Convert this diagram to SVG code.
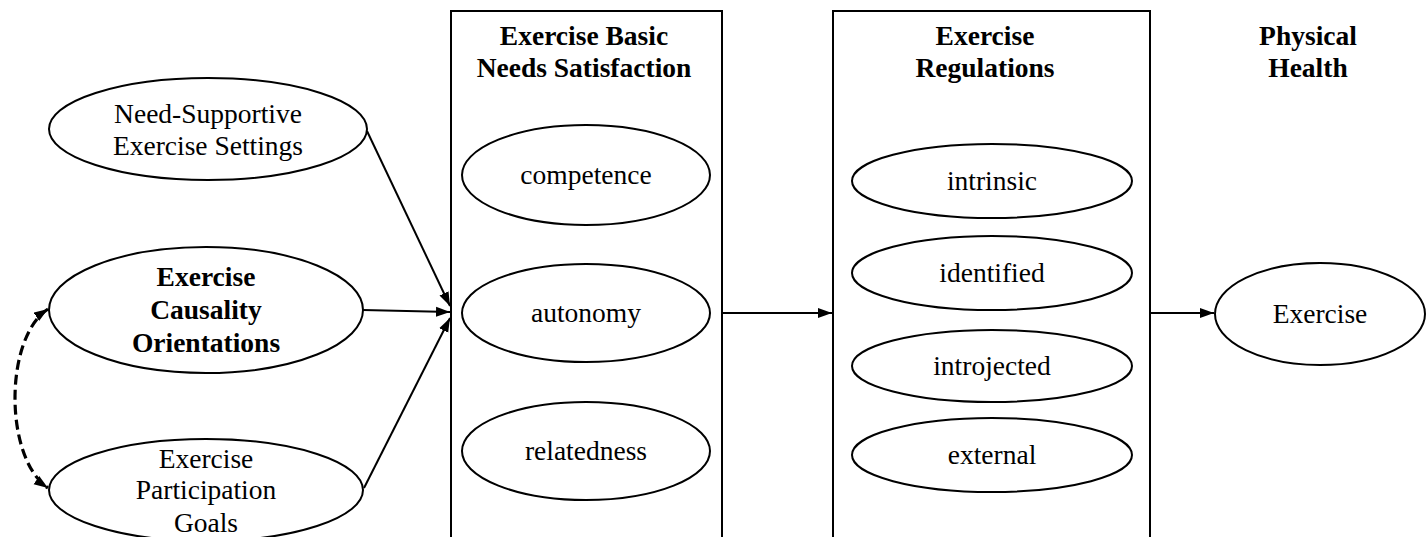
<svg xmlns="http://www.w3.org/2000/svg" width="1427" height="537" viewBox="0 0 1427 537">
<style>
  .bg{fill:#ffffff}
  .box{fill:none;stroke:#000;stroke-width:2}
  .ell{fill:#fff;stroke:#000;stroke-width:2}
  .t{font-family:"Liberation Serif","Times New Roman",serif;font-size:27.5px;fill:#000;text-anchor:middle}
  .b{font-weight:bold}
  .con{fill:none;stroke:#000;stroke-width:2}
  .dash{fill:none;stroke:#000;stroke-width:3.2;stroke-dasharray:10 5}
</style>
<defs>
  <marker id="arr" viewBox="0 0 14 10" refX="14" refY="5" markerWidth="14" markerHeight="11" markerUnits="userSpaceOnUse" orient="auto">
    <path d="M0,0 L14,5 L0,10 Z" fill="#000"/>
  </marker>
  <marker id="arrd" viewBox="0 0 14 10" refX="14" refY="5" markerWidth="14" markerHeight="11" markerUnits="userSpaceOnUse" orient="auto-start-reverse">
    <path d="M0,0 L14,5 L0,10 Z" fill="#000"/>
  </marker>
</defs>
<rect class="bg" x="0" y="0" width="1427" height="537"/>

<g id="box-needs">
  <rect class="box" x="451" y="11" width="271" height="540"/>
  <text class="t b" x="584" y="45">Exercise Basic</text>
  <text class="t b" x="584" y="77">Needs Satisfaction</text>
</g>
<g id="box-regulations">
  <rect class="box" x="833" y="11" width="317" height="540"/>
  <text class="t b" x="985" y="45">Exercise</text>
  <text class="t b" x="985" y="77">Regulations</text>
</g>
<g id="label-physical-health">
  <text class="t b" x="1308" y="45">Physical</text>
  <text class="t b" x="1308" y="77">Health</text>
</g>

<g id="node-need-supportive">
  <ellipse class="ell" cx="208" cy="129" rx="159" ry="51"/>
  <text class="t" x="208" y="123">Need-Supportive</text>
  <text class="t" x="208" y="155">Exercise Settings</text>
</g>
<g id="node-causality">
  <ellipse class="ell" cx="206" cy="310" rx="157" ry="63"/>
  <text class="t b" x="206" y="286">Exercise</text>
  <text class="t b" x="206" y="319">Causality</text>
  <text class="t b" x="206" y="352">Orientations</text>
</g>
<g id="node-goals">
  <ellipse class="ell" cx="206" cy="490" rx="157" ry="51"/>
  <text class="t" x="206" y="468">Exercise</text>
  <text class="t" x="206" y="499">Participation</text>
  <text class="t" x="206" y="532">Goals</text>
</g>

<g id="node-competence">
  <ellipse class="ell" cx="586" cy="175" rx="124" ry="50"/>
  <text class="t" x="586" y="184">competence</text>
</g>
<g id="node-autonomy">
  <ellipse class="ell" cx="586" cy="313" rx="124" ry="49"/>
  <text class="t" x="586" y="322">autonomy</text>
</g>
<g id="node-relatedness">
  <ellipse class="ell" cx="586" cy="451" rx="124" ry="49"/>
  <text class="t" x="586" y="460">relatedness</text>
</g>

<g id="node-intrinsic">
  <ellipse class="ell" cx="992" cy="181" rx="140" ry="37"/>
  <text class="t" x="992" y="190">intrinsic</text>
</g>
<g id="node-identified">
  <ellipse class="ell" cx="992" cy="273" rx="140" ry="37"/>
  <text class="t" x="992" y="282">identified</text>
</g>
<g id="node-introjected">
  <ellipse class="ell" cx="992" cy="366" rx="140" ry="36"/>
  <text class="t" x="992" y="375">introjected</text>
</g>
<g id="node-external">
  <ellipse class="ell" cx="992" cy="455" rx="140" ry="37"/>
  <text class="t" x="992" y="464">external</text>
</g>

<g id="node-exercise">
  <ellipse class="ell" cx="1320" cy="314" rx="105" ry="51"/>
  <text class="t" x="1320" y="323">Exercise</text>
</g>

<g id="connectors">
  <line class="con" x1="367" y1="131" x2="450" y2="306" marker-end="url(#arr)"/>
  <line class="con" x1="363" y1="310" x2="450" y2="312" marker-end="url(#arr)"/>
  <line class="con" x1="364" y1="488" x2="450" y2="318" marker-end="url(#arr)"/>
  <line class="con" x1="722" y1="313" x2="832" y2="313" marker-end="url(#arr)"/>
  <line class="con" x1="1150" y1="313" x2="1214" y2="313" marker-end="url(#arr)"/>
  <path class="dash" d="M48,309 C4,338 4,458 48,488" marker-start="url(#arrd)" marker-end="url(#arrd)"/>
</g>
</svg>
